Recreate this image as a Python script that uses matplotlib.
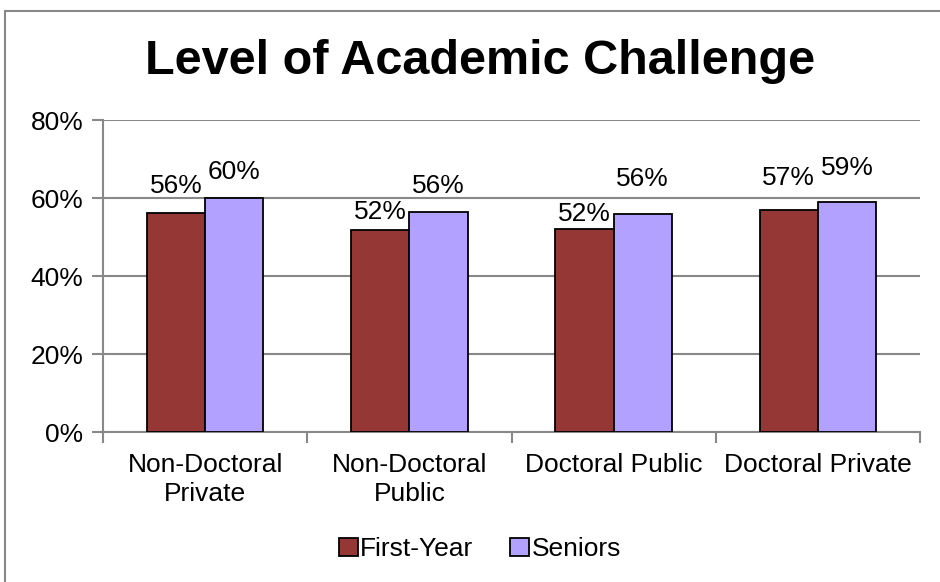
import matplotlib.pyplot as plt
import numpy as np
from matplotlib.patches import Rectangle

plt.rcParams['font.family'] = ['Liberation Sans', 'DejaVu Sans']

# Datos
categorias = ['Non-Doctoral\nPrivate', 'Non-Doctoral\nPublic', 'Doctoral Public', 'Doctoral Private']
primer_anio = [56.2, 51.8, 52.0, 56.8]
seniors = [59.9, 56.3, 55.9, 58.9]
etiquetas_fy = ['56%', '52%', '52%', '57%']
etiquetas_sr = ['60%', '56%', '56%', '59%']

# desplazamiento vertical de las etiquetas (pixeles sobre la barra)
desp_fy = [27, 18, 15, 32]
desp_sr = [26, 26, 35, 34]

color_fy = '#953735'
color_sr = '#B2A1FF'
gris = '#888888'
fs = 19

fig = plt.figure(figsize=(9.4, 5.82), dpi=100)
ax = fig.add_axes([103 / 940, 1 - 432 / 582, (920 - 103) / 940, (432 - 120) / 582])

x = np.arange(len(categorias))
ancho = 1 / 3.5
b1 = ax.bar(x - ancho / 2, primer_anio, ancho, color=color_fy, edgecolor='black', linewidth=1.3,
            label='First-Year', zorder=3)
b2 = ax.bar(x + ancho / 2, seniors, ancho, color=color_sr, edgecolor='black', linewidth=1.3,
            label='Seniors', zorder=3)

for barra, txt, d in zip(b1, etiquetas_fy, desp_fy):
    ax.annotate(txt, (barra.get_x() + barra.get_width() / 2, barra.get_height()),
                xytext=(0, d), textcoords='offset pixels', ha='center', va='center', fontsize=fs)
for barra, txt, d in zip(b2, etiquetas_sr, desp_sr):
    ax.annotate(txt, (barra.get_x() + barra.get_width() / 2, barra.get_height()),
                xytext=(0, d), textcoords='offset pixels', ha='center', va='center', fontsize=fs)

ax.set_xlim(-0.5, len(categorias) - 0.5)
ax.set_ylim(0, 80)
ax.set_yticks([0, 20, 40, 60, 80])
ax.set_yticklabels(['0%', '20%', '40%', '60%', '80%'], fontsize=fs)
ax.yaxis.grid(True, color=gris, linewidth=1.5, zorder=0)

# ticks de categoria en los limites
ax.set_xticks(np.arange(-0.5, len(categorias), 1))
ax.set_xticklabels([])
ax.set_xticks(x, minor=True)
ax.set_xticklabels(categorias, minor=True, fontsize=fs, linespacing=1.25)
ax.tick_params(axis='x', which='major', length=8, color=gris, width=1.5)
ax.tick_params(axis='x', which='minor', length=0, pad=15)
ax.tick_params(axis='y', length=8, color=gris, width=1.5, pad=6)

for s in ['top', 'right']:
    ax.spines[s].set_visible(False)
for s in ['left', 'bottom']:
    ax.spines[s].set_color(gris)
    ax.spines[s].set_linewidth(1.5)

fig.text(480 / 940, 1 - 61 / 582, 'Level of Academic Challenge', ha='center', va='center',
         fontsize=35, fontweight='bold')

fig.legend(loc='center', bbox_to_anchor=(480 / 940, 1 - 549 / 582), ncol=2, frameon=False,
           fontsize=fs, handlelength=0.7, handleheight=0.7, handletextpad=0.1, columnspacing=1.4)

# borde del grafico
fig.patches.append(Rectangle((5 / 940, -0.1), 1.2, 1.1 - 11 / 582, transform=fig.transFigure,
                             fill=False, edgecolor=gris, linewidth=1.5))

fig.savefig('out.png', dpi=100)
